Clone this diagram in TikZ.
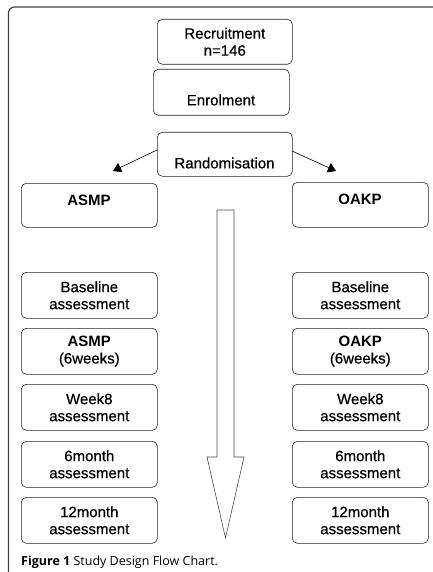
\documentclass[tikz,border=0pt]{standalone}
\usepackage{fontspec}
\setmainfont{Liberation Sans}[FakeBold=0.6,BoldFeatures={FakeBold=0}]
\newfontfamily\capfont{Open Sans}
\usetikzlibrary{arrows.meta}
\begin{document}
\begin{tikzpicture}[x=1pt,y=-1pt,
  box/.style={draw=black!85, line width=0.6pt, rounded corners=5pt, fill=white},
  txt/.style={font=\fontsize{15}{17}\selectfont, align=center, inner sep=0pt},
  link/.style={line width=0.6pt, -{Triangle[width=10pt,length=8pt]}}]
\useasboundingbox (0,0) rectangle (433,572);
\fill[white] (0,0) rectangle (433,572);
% frame
\draw[black!75, line width=1.2pt, rounded corners=6pt] (8.5,572) -- (8.5,7) -- (433,7);
% top boxes
\node[box, minimum width=135pt, minimum height=45pt, anchor=north west, txt] (rec) at (157,19) {Recruitment\\n=146};
\node[box, minimum width=136pt, minimum height=46pt, anchor=north west] (enr) at (153,69) {};
\node[txt] (enrt) at (221,100) {Enrolment};
\node[box, minimum width=135pt, minimum height=44pt, anchor=north west] (rand) at (157,132) {};
\node[txt] (randt) at (224.5,163) {Randomisation};
\node[box, minimum width=136pt, minimum height=44pt, anchor=north west] (asmp) at (21,183) {};
\node[txt] (asmpt) at (89,200) {\bfseries ASMP};
\node[box, minimum width=136pt, minimum height=45pt, anchor=north west] (oakp) at (292,182) {};
\node[txt] (oakpt) at (360,199) {\bfseries OAKP};
% arrows from randomisation
\coordinate (la) at (113,171);
\coordinate (ra) at (336,171);
\draw[link] (157,150) -- (la);
\draw[link] (292,151) -- (ra);
% big arrow
\draw[black!70, line width=0.6pt, fill=white] (217,210) -- (234,210) -- (234,457) -- (244,457) -- (225.5,538) -- (207,457) -- (217,457) -- cycle;
% rows
\foreach \n/\y/\lt/\rt in {b/272/{Baseline\\assessment}/{Baseline\\assessment},
  p/328/{\bfseries ASMP\\(6weeks)}/{\bfseries OAKP\\(6weeks)},
  w/384/{Week8\\assessment}/{Week8\\assessment},
  s/441/{6month\\assessment}/{6month\\assessment},
  t/497/{12month\\assessment}/{12month\\assessment}}{
  \node[box, txt, minimum width=136pt, minimum height=46pt, anchor=north west] (L\n) at (21,\y) {\lt};
  \node[box, txt, minimum width=136pt, minimum height=46pt, anchor=north west] (R\n) at (292,\y) {\rt};
}
% caption
\node[anchor=west, inner sep=0pt, font=\capfont\fontsize{12.5}{14}\selectfont] (cap) at (21,562) {\textbf{Figure 1} Study Design Flow Chart.};
\end{tikzpicture}
\end{document}
